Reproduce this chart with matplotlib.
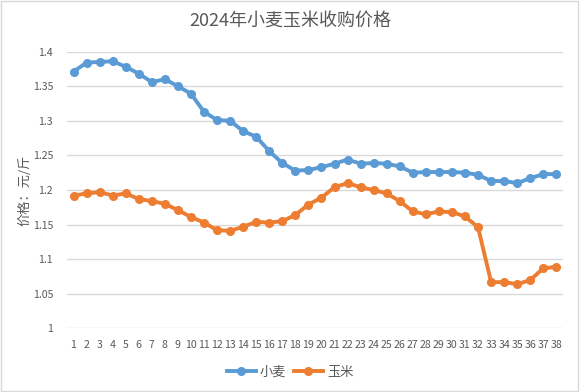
import matplotlib.pyplot as plt
from matplotlib.patches import Rectangle

plt.rcParams['font.family'] = ['Noto Sans CJK SC', 'DejaVu Sans']

days = list(range(1, 39))
wheat = [1.371, 1.384, 1.385, 1.386, 1.378, 1.368, 1.356, 1.360, 1.350, 1.339,
         1.313, 1.301, 1.300, 1.285, 1.277, 1.256, 1.239, 1.228, 1.229, 1.233,
         1.238, 1.244, 1.238, 1.239, 1.238, 1.234, 1.225, 1.226, 1.226, 1.226,
         1.225, 1.222, 1.213, 1.213, 1.210, 1.217, 1.223, 1.223]
corn = [1.192, 1.195, 1.197, 1.192, 1.195, 1.187, 1.184, 1.180, 1.171, 1.161,
        1.153, 1.142, 1.141, 1.147, 1.154, 1.153, 1.155, 1.164, 1.179, 1.189,
        1.204, 1.210, 1.204, 1.200, 1.195, 1.184, 1.169, 1.165, 1.169, 1.168,
        1.162, 1.146, 1.067, 1.067, 1.064, 1.070, 1.087, 1.089]
yticks = [1, 1.05, 1.1, 1.15, 1.2, 1.25, 1.3, 1.35, 1.4]
ytick_labels = ['1', '1.05', '1.1', '1.15', '1.2', '1.25', '1.3', '1.35', '1.4']

gray = '#595959'
fig = plt.figure(figsize=(5.8, 3.92), dpi=100)
ax = fig.add_axes([0.1155, 0.162, 0.855, 0.7065])

ax.plot(days, wheat, color='#5B9BD5', lw=2.8, marker='o', ms=5.5, label='小麦')
ax.plot(days, corn, color='#ED7D31', lw=2.8, marker='o', ms=5.5, label='玉米')

ax.set_xlim(0.5, 38.5)
ax.set_ylim(1, 1.4)
ax.set_xticks(days)
ax.set_xticklabels([str(d) for d in days], fontsize=7.6, color=gray)
ax.set_yticks(yticks)
ax.set_yticklabels(ytick_labels, fontsize=7.6, color=gray)
ax.tick_params(length=0, pad=8)
ax.tick_params(axis='y', pad=10)
ax.grid(axis='y', color='#D9D9D9', lw=1)
ax.set_axisbelow(True)
for s in ax.spines.values():
    s.set_visible(False)

ax.set_ylabel('价格：元/斤', fontsize=9.5, color=gray)
ax.yaxis.set_label_coords(-0.072, 0.5)
fig.text(0.5, 0.947, '2024年小麦玉米收购价格', ha='center', va='center',
         fontsize=13, color=gray)

fig.legend(loc='center', bbox_to_anchor=(0.5, 0.05), ncol=2, frameon=False,
           fontsize=9.5, labelcolor=gray, handlelength=2.2, columnspacing=0.6,
           handletextpad=0.3)

fig.patches.append(Rectangle((0.002, 0.003), 0.994, 0.994, transform=fig.transFigure,
                             fill=False, ec='#D9D9D9', lw=1))

fig.savefig('out.png', dpi=100)
